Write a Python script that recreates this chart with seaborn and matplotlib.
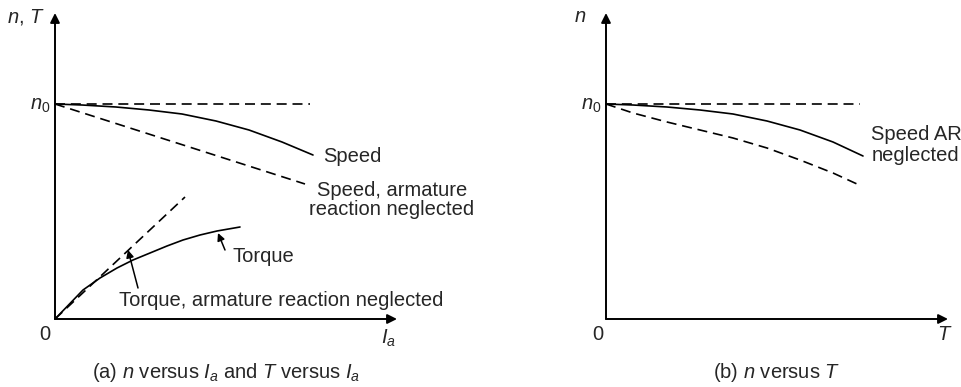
import matplotlib
matplotlib.use("Agg")
import matplotlib.pyplot as plt
import seaborn as sns

# values (arbitrary units, origin at 0)
n0 = 215

# (a) speed and torque versus armature current
ia_speed = [0, 27, 61, 94, 127, 161, 194, 227, 258]
speed = [215, 214, 212, 209, 205, 198, 189, 177, 164]
ia_speed_ar = [0, 250]
speed_ar = [215, 135]
ia_torque = [0, 28, 45, 62, 78, 95, 112, 128, 145, 162, 185]
torque = [0, 29, 41, 51, 59, 66, 73, 79, 84, 88, 92]
ia_torque_ar = [0, 130]
torque_ar = [0, 122]
ia_n0 = [0, 255]

# (b) speed versus torque
t_speed = [0, 27, 61, 94, 127, 161, 194, 227, 257]
t_speed_n = [215, 214, 212, 209, 205, 198, 189, 177, 163]
t_speed_ar = [0, 27, 61, 94, 127, 161, 194, 227, 251]
t_speed_ar_n = [215, 206, 197, 189, 181, 171, 159, 146, 135]
t_n0 = [0, 254]

sns.set_style("white")
plt.rcParams["font.family"] = ["Liberation Sans", "DejaVu Sans"]
plt.rcParams["mathtext.fontset"] = "custom"
plt.rcParams["mathtext.rm"] = "Liberation Sans"
plt.rcParams["mathtext.it"] = "Liberation Sans:italic"

W, H = 962, 387
fig = plt.figure(figsize=(W / 100, H / 100), dpi=100)
FS = 14.5
DASH = (0, (6, 3.5))


def make_axes(x0, y0):
    ax = fig.add_axes([x0 / W, (H - y0) / H, 342 / W, 306 / H])
    ax.set_xlim(0, 342)
    ax.set_ylim(0, 306)
    for s in ax.spines.values():
        s.set_visible(False)
    ax.set_xticks([])
    ax.set_yticks([])
    arrow = dict(arrowstyle="-|>", lw=1.4, color="black", mutation_scale=14,
                 shrinkA=0, shrinkB=0)
    ax.annotate("", xy=(1, 0), xytext=(0, 0), xycoords="axes fraction",
                arrowprops=arrow)
    ax.annotate("", xy=(0, 1), xytext=(0, 0), xycoords="axes fraction",
                arrowprops=arrow)
    return ax


def line(ax, x, y, dashed=False):
    sns.lineplot(x=x, y=y, ax=ax, color="black", lw=1.2, estimator=None,
                 sort=False, linestyle=DASH if dashed else "-", clip_on=False)


def txt(x, y, s, **kw):
    kw.setdefault("va", "center")
    fig.text(x / W, 1 - y / H, s, fontsize=FS, **kw)


def pointer(ax, tip, tail):
    ax.annotate("", xy=tip, xytext=tail,
                arrowprops=dict(arrowstyle="-|>", lw=1.1, color="black",
                                mutation_scale=11, shrinkA=0, shrinkB=0))


# panel (a)
axL = make_axes(55, 319)
line(axL, ia_n0, [n0, n0], dashed=True)
line(axL, ia_speed, speed)
line(axL, ia_speed_ar, speed_ar, dashed=True)
line(axL, ia_torque, torque)
line(axL, ia_torque_ar, torque_ar, dashed=True)
pointer(axL, (163, 86), (170, 69))
pointer(axL, (73, 69), (83, 31))

txt(45, 17, "$n$, $T$", ha="right")
txt(50, 106, "$n_0$", ha="right")
txt(45, 334, "0", ha="center")
txt(388, 338, "$I_a$", ha="center")
txt(323, 157, "Speed")
txt(392, 200, "Speed, armature\nreaction neglected", ha="center",
    linespacing=1.05)
txt(233, 257, "Torque")
txt(119, 300, "Torque, armature reaction neglected")
txt(226, 372, "(a) $n$ versus $I_a$ and $T$ versus $I_a$", ha="center")

# panel (b)
axR = make_axes(606, 319)
line(axR, t_n0, [n0, n0], dashed=True)
line(axR, t_speed, t_speed_n)
line(axR, t_speed_ar, t_speed_ar_n, dashed=True)

txt(580, 17, "$n$", ha="center")
txt(601, 106, "$n_0$", ha="right")
txt(598, 334, "0", ha="center")
txt(945, 334, "$T$", ha="center")
txt(916, 145, "Speed AR\nneglected", ha="center", linespacing=1.15)
txt(777, 372, "(b) $n$ versus $T$", ha="center")

fig.savefig("out.png", dpi=100)
plt.close(fig)
